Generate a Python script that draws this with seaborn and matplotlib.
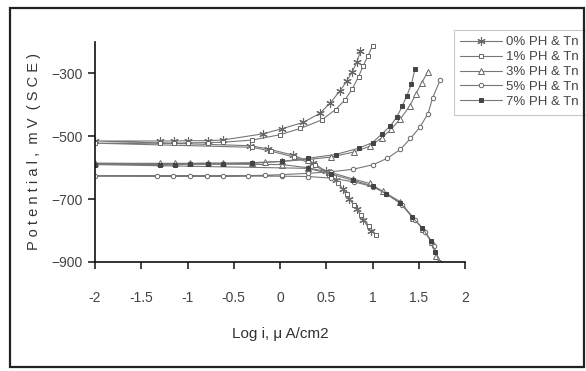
import matplotlib
matplotlib.use("Agg")

import matplotlib.pyplot as plt
from matplotlib.patches import Rectangle
import seaborn as sns
import pandas as pd

# --- data (log i, potential mV) ---
series_labels = ["0% PH & Tn", "1% PH & Tn", "3% PH & Tn", "5% PH & Tn", "7% PH & Tn"]

ano_x_0 = [-2, -1.3, -1.15, -1.0, -0.78, -0.62, -0.18, 0.02, 0.25, 0.43, 0.54, 0.65, 0.72, 0.78, 0.83, 0.87]
ano_e_0 = [-515, -515, -515, -514, -514, -512, -492, -476, -456, -427, -395, -355, -325, -295, -265, -228]
cat_x_0 = [-0.32, -0.13, 0.14, 0.36, 0.5, 0.6, 0.68, 0.75, 0.83, 0.9, 0.98]
cat_e_0 = [-530, -540, -560, -585, -612, -640, -668, -700, -730, -765, -802]

ano_x_1 = [-2, -1.3, -1.15, -1.0, -0.78, -0.62, -0.3, 0.0, 0.22, 0.45, 0.6, 0.7, 0.78, 0.85, 0.9, 0.95, 1.0]
ano_e_1 = [-522, -522, -522, -521, -520, -519, -512, -495, -475, -448, -415, -385, -350, -310, -275, -245, -212]
cat_x_1 = [-0.3, -0.1, 0.15, 0.38, 0.53, 0.63, 0.72, 0.8, 0.88, 0.96, 1.04]
cat_e_1 = [-535, -547, -566, -592, -622, -650, -685, -718, -752, -785, -815]

ano_x_3 = [-2, -1.3, -1.14, -0.97, -0.78, -0.62, -0.3, -0.16, 0.02, 0.3, 0.55, 0.8, 0.97, 1.1, 1.2, 1.3, 1.4, 1.47, 1.53, 1.6]
ano_e_3 = [-586, -586, -586, -586, -585, -585, -584, -582, -580, -574, -566, -550, -532, -505, -478, -445, -405, -365, -330, -295]
cat_x_3 = [0.02, 0.3, 0.55, 0.79, 0.97, 1.11, 1.3, 1.44, 1.55, 1.64, 1.69]
cat_e_3 = [-590, -600, -615, -636, -650, -675, -708, -760, -795, -836, -880]

ano_x_5 = [-2, -1.33, -1.16, -0.97, -0.79, -0.62, -0.35, -0.16, 0.02, 0.3, 0.55, 0.79, 1.01, 1.16, 1.3, 1.41, 1.51, 1.6, 1.65, 1.73]
ano_e_5 = [-626, -626, -626, -626, -626, -626, -625, -624, -622, -618, -613, -605, -590, -570, -542, -507, -472, -428, -378, -322]
cat_x_5 = [0.02, 0.3, 0.55, 0.8, 1.0, 1.15, 1.32, 1.46, 1.57, 1.66, 1.72]
cat_e_5 = [-627, -628, -633, -645, -660, -683, -718, -765, -805, -848, -900]

ano_x_7 = [-2, -1.3, -1.14, -0.97, -0.78, -0.62, -0.3, 0.02, 0.3, 0.6, 0.85, 1.0, 1.1, 1.19, 1.26, 1.32, 1.37, 1.42, 1.46]
ano_e_7 = [-590, -590, -590, -589, -589, -588, -586, -580, -570, -558, -538, -520, -493, -468, -440, -405, -372, -335, -285]
cat_x_7 = [0.3, 0.55, 0.79, 1.0, 1.15, 1.3, 1.43, 1.54, 1.63, 1.68]
cat_e_7 = [-602, -620, -640, -658, -683, -712, -758, -792, -832, -868]

x_ticks = [-2, -1.5, -1, -0.5, 0, 0.5, 1, 1.5, 2]
x_tick_labels = ["-2", "-1.5", "-1", "-0.5", "0", "0.5", "1", "1.5", "2"]
y_ticks = [-900, -700, -500, -300]

branches = [
    (ano_x_0, ano_e_0, cat_x_0, cat_e_0),
    (ano_x_1, ano_e_1, cat_x_1, cat_e_1),
    (ano_x_3, ano_e_3, cat_x_3, cat_e_3),
    (ano_x_5, ano_e_5, cat_x_5, cat_e_5),
    (ano_x_7, ano_e_7, cat_x_7, cat_e_7),
]

# marker styles, close to the old Excel look
styles = [
    dict(marker=(6, 2, 0), markersize=6, mfc="none", mec="#666666", mew=0.8),
    dict(marker="s", markersize=3, mfc="white", mec="#666666", mew=0.7),
    dict(marker="^", markersize=5, mfc="white", mec="#666666", mew=0.7),
    dict(marker="o", markersize=3.2, mfc="white", mec="#666666", mew=0.7),
    dict(marker="s", markersize=3, mfc="#444444", mec="#444444", mew=0.7),
]

sns.set_theme(style="white")
plt.rcParams["font.family"] = ["Liberation Sans", "DejaVu Sans"]

fig = plt.figure(figsize=(5.86, 3.71), dpi=100)
ax = fig.add_axes([95 / 586, 1 - 262 / 371, 370 / 586, 220 / 371])

for label, (ax_, ae, cx, ce), st in zip(series_labels, branches, styles):
    # cathodic branch reversed, then anodic branch: one continuous trace
    df = pd.DataFrame({"logi": cx[::-1] + ax_, "E": ce[::-1] + ae})
    sns.lineplot(data=df, x="logi", y="E", sort=False, estimator=None,
                 color="#777777", linewidth=0.8, label=label, ax=ax, **st)

ax.set_xlim(-2, 2)
ax.set_ylim(-900, -200)
ax.set_xticks(x_ticks)
ax.set_xticklabels(x_tick_labels)
ax.set_yticks(y_ticks)
ax.tick_params(axis="x", direction="out", length=5, width=1.2, colors="#222222",
               labelsize=10, labelcolor="#444444", bottom=True, pad=16)
ax.tick_params(axis="y", direction="out", length=5, width=1.2, colors="#222222",
               labelsize=10, labelcolor="#444444", left=True, pad=4)
for side in ["top", "right"]:
    ax.spines[side].set_visible(False)
for side in ["left", "bottom"]:
    ax.spines[side].set_color("#111111")
    ax.spines[side].set_linewidth(1.2)

ax.set_xlabel("Log i, \u03bc A/cm2", fontsize=11, color="#333333", labelpad=16)
ax.set_ylabel("P o t e n t i a l ,  m V  ( S C E )", fontsize=10.5, color="#333333", labelpad=7)

leg = ax.legend(loc="upper left", bbox_to_anchor=(447 / 586, 1 - 23 / 371),
                bbox_transform=fig.transFigure, fontsize=9.5, frameon=True,
                fancybox=False, edgecolor="#bbbbbb", handlelength=3.2,
                labelspacing=0.2, borderpad=0.5, handletextpad=0.3,
                labelcolor="#444444")
leg.get_frame().set_linewidth(0.8)

# outer frame of the scanned figure
fig.patches.append(Rectangle((10 / 586, 4 / 371), 574 / 586, 359 / 371,
                             transform=fig.transFigure, fill=False,
                             edgecolor="#222222", linewidth=1.6))

plt.savefig("out.png", dpi=100)
plt.close()
